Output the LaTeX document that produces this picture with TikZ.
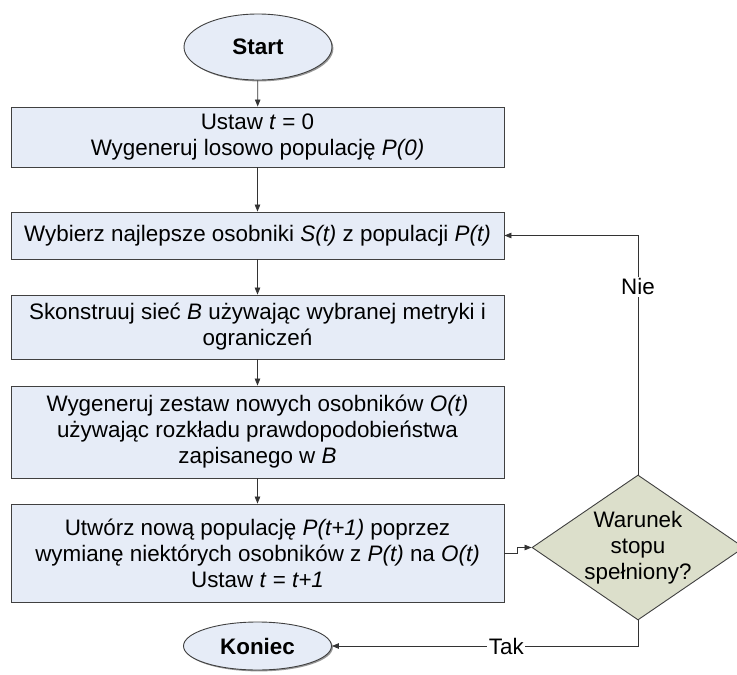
\documentclass[tikz,border=0pt]{standalone}
\usepackage{fontspec}
\setmainfont{Liberation Sans}
\usetikzlibrary{shapes.geometric,arrows.meta,shadows}

\definecolor{boxfill}{HTML}{E6ECF7}
\definecolor{decfill}{HTML}{DCDFCB}
\definecolor{edge}{HTML}{404040}

\tikzset{
  shade2/.style={drop shadow={shadow xshift=1.4pt,shadow yshift=-1.4pt,fill=black!45,opacity=0.9}},
  stepbox/.style={rectangle,draw=edge,line width=0.9pt,fill=boxfill,shade2,
    minimum width=493pt,align=center,inner sep=0pt},
  terminal/.style={ellipse,draw=edge,line width=0.9pt,fill=boxfill,shade2,
    minimum width=148pt,inner sep=0pt,font=\fontsize{22.4}{26}\selectfont\bfseries},
  decision/.style={diamond,draw=edge,line width=0.9pt,fill=decfill,
    minimum width=212pt,minimum height=145pt,inner sep=-30pt,align=center},
  arr/.style={draw=black!80,line width=0.8pt,-{Triangle[length=7pt,width=5.5pt]}},
  lbl/.style={fill=white,inner sep=1.5pt}
}

\begin{document}
\begin{tikzpicture}[x=1pt,y=-1pt,font=\fontsize{22.4}{26}\selectfont]
\useasboundingbox (0,0) rectangle (737,675);

\node[terminal,minimum height=66pt] (start) at (258,47) {Start};
\node[stepbox,minimum height=60pt] (b1) at (257.5,137)
  {Ustaw \textit{t} = 0\\Wygeneruj losowo populację \textit{P(0)}};
\node[stepbox,minimum height=47pt] (b2) at (257.5,235.5)
  {Wybierz najlepsze osobniki \textit{S(t)} z populacji \textit{P(t)}};
\node[stepbox,minimum height=64pt] (b3) at (257.5,327)
  {Skonstruuj sieć \textit{B} używając wybranej metryki i\\ograniczeń};
\node[stepbox,minimum height=92pt] (b4) at (257.5,432)
  {Wygeneruj zestaw nowych osobników \textit{O(t)}\\używając rozkładu prawdopodobieństwa\\zapisanego w \textit{B}};
\node[stepbox,minimum height=98pt] (b5) at (257.5,553)
  {Utwórz nową populację \textit{P(t+1)} poprzez\\wymianę niektórych osobników z \textit{P(t)} na \textit{O(t)}\\Ustaw \textit{t} = \textit{t+1}};
\node[decision] (dec) at (638,547.5) {Warunek\\stopu\\spełniony?};
\node[terminal,minimum height=48pt] (end) at (257.5,646) {Koniec};

\coordinate (loop) at (dec.north |- b2.east);
\coordinate (down) at (dec.south |- end.east);

\draw[arr] (start) -- (b1);
\draw[arr] (b1) -- (b2);
\draw[arr] (b2) -- (b3);
\draw[arr] (b3) -- (b4);
\draw[arr] (b4) -- (b5);
\draw[arr] (b5.east) -- ++(13,0) |- (dec.west);
\draw[arr] (dec.north) -- node[lbl,pos=0.785] {Nie} (loop) -- (b2.east);
\draw[arr] (dec.south) -- (down) -- node[lbl,pos=0.43] {Tak} (end.east);
\end{tikzpicture}
\end{document}
